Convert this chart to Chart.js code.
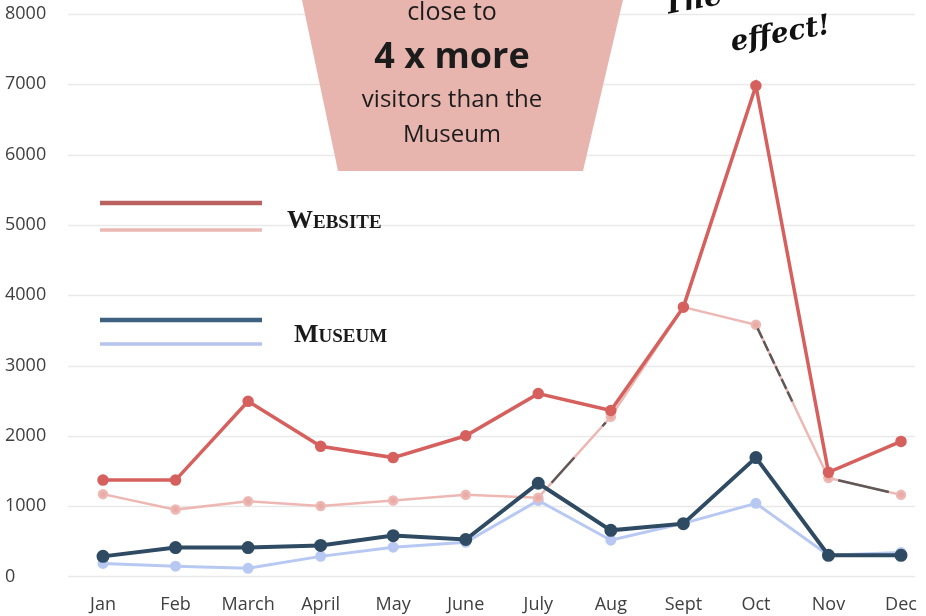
<!DOCTYPE html>
<html>
<head>
<meta charset="utf-8">
<script src="https://cdn.jsdelivr.net/npm/chart.js@4.4.1/dist/chart.umd.min.js"></script>
<style>
  html, body { margin: 0; padding: 0; background: #fff; }
  #wrap { width: 926px; height: 616px; position: relative; }
</style>
</head>
<body>
<div id="wrap"><canvas id="visitorsChart"></canvas></div>
<script>
// Data
const months = ['Jan', 'Feb', 'March', 'April', 'May', 'June', 'July', 'Aug', 'Sept', 'Oct', 'Nov', 'Dec'];
const websiteNow = [1370, 1370, 2490, 1850, 1690, 2000, 2600, 2360, 3830, 6980, 1480, 1920];
const websitePrev = [1170, 950, 1070, 1000, 1080, 1160, 1120, 2270, 3830, 3580, 1400, 1160];
const museumNow = [285, 410, 410, 440, 580, 525, 1325, 655, 750, 1690, 300, 300];
const museumPrev = [185, 145, 115, 285, 415, 485, 1080, 515, 755, 1040, 300, 340];
const yTicks = [0, 1000, 2000, 3000, 4000, 5000, 6000, 7000, 8000];

// dark pen strokes drawn over some segments of the light website line
const penDash = {
    6: [0, 20, 34, 42, 5, 1000],
    9: [0, 4, 11, 3, 11, 3, 11, 3, 11, 3, 11, 3, 11, 1000],
    10: [0, 10, 52, 1000]
};

const gridPlugin = {
    id: 'customGrid',
    beforeDatasetsDraw(chart) {
        const ctx = chart.ctx;
        const y = chart.scales.y;
        ctx.save();
        ctx.strokeStyle = '#e9e9e9';
        ctx.lineWidth = 1.5;
        yTicks.forEach(function(v) {
            const py = Math.round(y.getPixelForValue(v)) + 0.5;
            ctx.beginPath();
            ctx.moveTo(68, py);
            ctx.lineTo(915, py);
            ctx.stroke();
        });
        ctx.restore();
    }
};

function smallCaps(ctx, word, x, y, big, small) {
    ctx.font = 'bold ' + big + 'px "Liberation Serif"';
    ctx.fillText(word[0], x, y);
    const w = ctx.measureText(word[0]).width;
    ctx.font = 'bold ' + small + 'px "Liberation Serif"';
    ctx.fillText(word.slice(1), x + w, y);
}

const notesPlugin = {
    id: 'notes',
    afterDatasetsDraw(chart) {
        const ctx = chart.ctx;
        ctx.save();

        // pink callout box
        ctx.fillStyle = '#e8b5ae';
        ctx.beginPath();
        ctx.moveTo(302, 0);
        ctx.lineTo(623, 0);
        ctx.lineTo(583, 171);
        ctx.lineTo(338, 171);
        ctx.closePath();
        ctx.fill();

        ctx.fillStyle = '#1c1c1c';
        ctx.textAlign = 'center';
        ctx.textBaseline = 'alphabetic';
        ctx.font = '25px "Open Sans"';
        ctx.fillText('close to', 452, 20);
        ctx.font = 'bold 36px "Open Sans"';
        ctx.fillText('4 x more', 452, 68);
        ctx.font = '24px "Open Sans"';
        ctx.fillText('visitors than the', 452, 107);
        ctx.fillText('Museum', 452, 142);

        // handwritten note, cut by the top edge
        ctx.font = 'italic bold 28px "DejaVu Serif"';
        ctx.fillStyle = '#111';
        ctx.save();
        ctx.translate(782, 42);
        ctx.rotate(-0.18);
        ctx.fillText('effect!', 0, 0);
        ctx.restore();
        ctx.save();
        ctx.translate(694, 9);
        ctx.rotate(-0.18);
        ctx.fillText('The', 0, 0);
        ctx.restore();

        // legend
        ctx.lineCap = 'butt';
        [[203, '#b9625f', 4.5], [230, '#ebb9b4', 3.5], [320, '#3f6180', 4.5], [344, '#b6c3ec', 3.5]].forEach(function(l) {
            ctx.strokeStyle = l[1];
            ctx.lineWidth = l[2];
            ctx.beginPath();
            ctx.moveTo(100, l[0]);
            ctx.lineTo(262, l[0]);
            ctx.stroke();
        });
        ctx.textAlign = 'left';
        ctx.fillStyle = '#1a1a1a';
        smallCaps(ctx, 'WEBSITE', 287, 228, 26, 19);
        smallCaps(ctx, 'MUSEUM', 294, 342, 26, 19);

        ctx.restore();
    }
};

const ctx = document.getElementById('visitorsChart').getContext('2d');
const visitorsChart = new Chart(ctx, {
    type: 'line',
    data: {
        labels: months,
        datasets: [{
            label: 'pen',
            data: websitePrev,
            borderColor: 'rgba(0,0,0,0)',
            borderWidth: 2.5,
            pointRadius: 0,
            order: 0,
            segment: {
                borderColor: function(c) {
                    return penDash[c.p0DataIndex] ? 'rgba(70,70,70,0.85)' : 'rgba(0,0,0,0)';
                },
                borderDash: function(c) {
                    return penDash[c.p0DataIndex] || [];
                }
            }
        }, {
            label: 'Website',
            data: websiteNow,
            borderColor: '#d6605d',
            backgroundColor: '#d6605d',
            borderWidth: 3.5,
            pointRadius: 4,
            order: 1
        }, {
            label: 'Museum',
            data: museumNow,
            borderColor: '#2f4b63',
            backgroundColor: '#2f4b63',
            borderWidth: 4,
            pointRadius: 4.5,
            order: 2
        }, {
            label: 'Website (previous)',
            data: websitePrev,
            borderColor: '#edb8b3',
            backgroundColor: '#eaaaa5',
            borderWidth: 2.5,
            pointRadius: 4,
            order: 3
        }, {
            label: 'Museum (previous)',
            data: museumPrev,
            borderColor: '#b7c8f2',
            backgroundColor: '#b7c8f2',
            borderWidth: 3,
            pointRadius: 4,
            order: 4
        }]
    },
    options: {
        responsive: true,
        maintainAspectRatio: false,
        animation: false,
        events: [],
        layout: {
            padding: { left: 5, right: 25, top: 14, bottom: -18 }
        },
        plugins: {
            legend: { display: false },
            tooltip: { enabled: false }
        },
        scales: {
            x: {
                offset: false,
                grid: { display: false, drawTicks: false },
                border: { display: false },
                afterFit: function(scale) {
                    scale.paddingRight = 0;
                    scale.paddingLeft = 0;
                },
                ticks: {
                    padding: 18,
                    color: '#404040',
                    font: { family: 'Open Sans', size: 18 },
                    maxRotation: 0,
                    autoSkip: false
                }
            },
            y: {
                min: 0,
                max: 8000,
                grid: { display: false, drawTicks: false },
                border: { display: false },
                afterFit: function(scale) { scale.width = 98; },
                ticks: {
                    stepSize: 1000,
                    crossAlign: 'far',
                    padding: 0,
                    color: '#404040',
                    font: { family: 'Open Sans', size: 18 },
                    callback: function(v) { return String(v); }
                }
            }
        }
    },
    plugins: [gridPlugin, notesPlugin]
});
</script>
</body>
</html>
